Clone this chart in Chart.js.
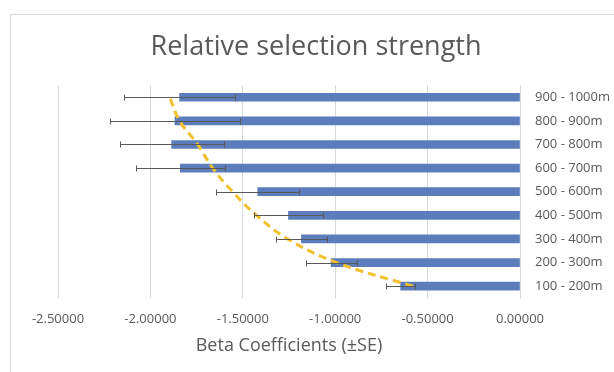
<!DOCTYPE html>
<html>
<head>
    <title>Relative selection strength</title>
    <script src="https://cdn.jsdelivr.net/npm/chart.js@4.4.0/dist/chart.umd.min.js"></script>
    <style>
        body {
            margin: 0;
            background: white;
            overflow: hidden;
        }
        .frame {
            position: absolute;
            left: 10px;
            top: 14px;
            width: 700px;
            height: 500px;
            border: 1px solid #d9d9d9;
        }
        .wrap {
            position: absolute;
            left: 0;
            top: 0;
            width: 614px;
            height: 372px;
        }
    </style>
</head>
<body>
    <div class="frame"></div>
    <div class="wrap">
        <canvas id="betaChart" width="614" height="372"></canvas>
    </div>

    <script>
        // distance bands, bottom to top
        const bands = ['100 - 200m', '200 - 300m', '300 - 400m', '400 - 500m', '500 - 600m',
                       '600 - 700m', '700 - 800m', '800 - 900m', '900 - 1000m'];
        const betas = [-0.646, -1.022, -1.183, -1.253, -1.419, -1.838, -1.885, -1.867, -1.842];
        const errors = [0.078, 0.138, 0.138, 0.188, 0.224, 0.240, 0.282, 0.353, 0.300];
        // dashed trend line
        const trend = [-0.579, -0.993, -1.257, -1.426, -1.555, -1.663, -1.744, -1.842, -1.896];

        const textColor = '#595959';
        const fontFamily = "'Open Sans', sans-serif";

        // draw the +-SE whiskers through the chart scales
        const errorBars = {
            id: 'errorBars',
            afterDatasetsDraw(chart) {
                const c = chart.ctx;
                const xs = chart.scales.x;
                const ys = chart.scales.y;
                c.save();
                c.strokeStyle = '#595959';
                c.lineWidth = 1;
                bands.forEach((b, i) => {
                    const y = Math.round(ys.getPixelForValue(i)) + 0.5;
                    const x1 = Math.round(xs.getPixelForValue(betas[i] - errors[i])) + 0.5;
                    const x2 = Math.round(xs.getPixelForValue(betas[i] + errors[i])) + 0.5;
                    c.beginPath();
                    c.moveTo(x1, y);
                    c.lineTo(x2, y);
                    c.moveTo(x1, y - 3);
                    c.lineTo(x1, y + 3);
                    c.moveTo(x2, y - 3);
                    c.lineTo(x2, y + 3);
                    c.stroke();
                });
                c.restore();
            }
        };

        const chart = new Chart(document.getElementById('betaChart'), {
            type: 'bar',
            data: {
                labels: bands,
                datasets: [
                    {
                        type: 'line',
                        label: 'Trend',
                        data: trend.map((v, i) => ({ x: v, y: bands[i] })),
                        borderColor: '#F2C12E',
                        borderWidth: 3,
                        borderDash: [8, 5],
                        pointRadius: 0,
                        tension: 0.4,
                        fill: false,
                        order: 0
                    },
                    {
                        label: 'Beta',
                        data: betas,
                        backgroundColor: '#5B7DBB',
                        barThickness: 8,
                        order: 1
                    }
                ]
            },
            options: {
                indexAxis: 'y',
                responsive: false,
                animation: false,
                layout: {
                    padding: { left: 18, right: 0, top: 0, bottom: 0 }
                },
                plugins: {
                    legend: { display: false },
                    tooltip: { enabled: false },
                    title: {
                        display: true,
                        text: 'Relative selection strength',
                        color: textColor,
                        font: { family: fontFamily, size: 27, weight: 'normal' },
                        padding: { top: 31, bottom: 22 }
                    }
                },
                scales: {
                    x: {
                        min: -2.5,
                        max: 0,
                        border: { display: false },
                        grid: { color: '#d9d9d9', drawTicks: false },
                        ticks: {
                            stepSize: 0.5,
                            padding: 13,
                            color: textColor,
                            font: { family: fontFamily, size: 13 },
                            callback: v => Number(v).toFixed(5)
                        },
                        title: {
                            display: true,
                            text: 'Beta Coefficients (±SE)',
                            color: textColor,
                            font: { family: fontFamily, size: 18 },
                            padding: { top: 0, bottom: 15 }
                        },
                        afterFit(scale) {
                            scale.height = 74;
                        }
                    },
                    y: {
                        position: 'right',
                        reverse: true,
                        border: { display: true, color: '#d9d9d9' },
                        grid: { display: false, drawTicks: false },
                        ticks: {
                            padding: 15,
                            color: textColor,
                            font: { family: fontFamily, size: 13 }
                        },
                        afterFit(scale) {
                            scale.width = 94;
                        }
                    },
                    // empty spacer on the left so the plot starts where the reference does
                    spacer: {
                        axis: 'y',
                        type: 'category',
                        position: 'left',
                        display: true,
                        grid: { display: false, drawTicks: false },
                        border: { display: false },
                        ticks: { display: false },
                        afterFit(scale) {
                            scale.width = 40;
                        }
                    }
                }
            },
            plugins: [errorBars]
        });
    </script>
</body>
</html>
